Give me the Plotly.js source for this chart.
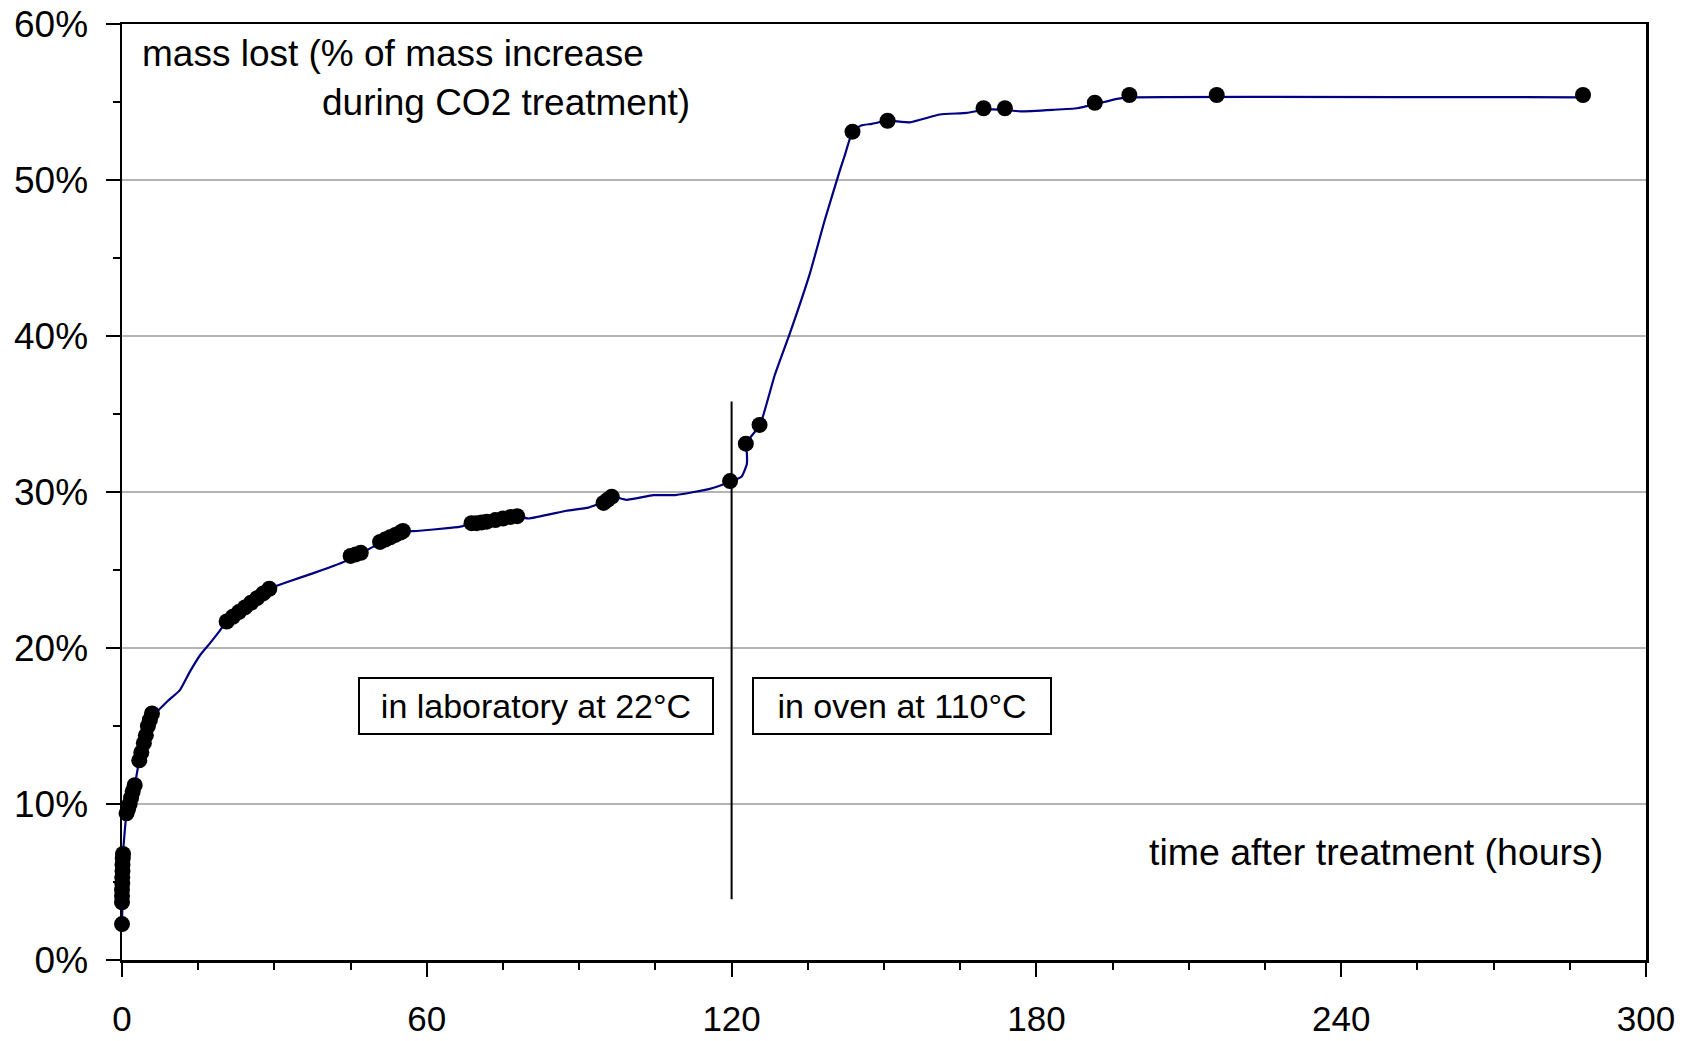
<!DOCTYPE html>
<html>
<head>
<meta charset="utf-8">
<script src="https://cdn.plot.ly/plotly-3.0.1.min.js"></script>
<style>html,body{margin:0;padding:0;background:#fff;}#chart{width:1694px;height:1041px;}</style>
</head>
<body>
<div id="chart"></div>
<script>
// Measured points: time after treatment (hours) and mass lost (fraction)
const pointHours = [0, 0, 0, 0, 0.05, 0.05, 0.1, 0.1, 0.15, 0.2,
  0.9, 1.2, 1.5, 1.8, 2.1, 2.5,
  3.4, 3.8, 4.3, 4.7, 5.1, 5.5, 5.9,
  20.6, 21.8, 23.0, 24.2, 25.4, 26.6, 27.8, 29.0,
  45.0, 46.0, 47.0,
  50.8, 51.8, 52.8, 53.8, 54.8, 55.3,
  68.8, 69.8, 70.8, 71.8, 73.5, 75.0, 76.5, 77.8,
  94.8, 95.6, 96.4,
  119.7, 122.8, 125.5, 143.8, 150.7, 169.6, 173.8, 191.5, 198.3, 215.5, 287.6];
const pointLost = [0.023, 0.037, 0.041, 0.045, 0.049, 0.053, 0.057, 0.061, 0.065, 0.068,
  0.094, 0.097, 0.100, 0.104, 0.108, 0.112,
  0.128, 0.133, 0.139, 0.144, 0.150, 0.154, 0.158,
  0.217, 0.220, 0.223, 0.226, 0.229, 0.232, 0.235, 0.238,
  0.259, 0.260, 0.261,
  0.268, 0.2695, 0.271, 0.2725, 0.274, 0.275,
  0.280, 0.280, 0.2805, 0.281, 0.282, 0.283, 0.284, 0.2845,
  0.293, 0.295, 0.297,
  0.307, 0.331, 0.343, 0.531, 0.538, 0.546, 0.546, 0.5495, 0.5545, 0.5545, 0.5545];

// Blue trend line vertices
const lineHours = [0, 0.1, 0.2, 0.9, 2.5, 3.4, 5.9, 7.1, 9.0, 11.4, 13.4, 15.5, 17.3, 19.0, 20.6,
  29.0, 32.7, 37.7, 44.2, 45.0, 47.0, 49.5, 51.1, 55.3, 58.0, 64.6, 66.9, 68.8, 77.8, 80.0,
  87.5, 91.8, 95.1, 96.7, 99.3, 104.6, 108.9, 115.7, 119.7, 122.0, 123.0, 123.0, 122.8,
  125.6, 128.5, 131.5, 135.4, 138.4, 141.3, 142.3, 143.8, 145.5, 147.6, 150.7, 155.1,
  161.0, 166.3, 169.6, 173.8, 176.8, 183.3, 188.0, 191.5, 195.9, 198.3, 287.5];
const lineLost = [0.023, 0.040, 0.068, 0.094, 0.112, 0.128, 0.158, 0.160, 0.166, 0.173, 0.185, 0.196, 0.203, 0.210, 0.217,
  0.238, 0.2425, 0.248, 0.256, 0.259, 0.261, 0.265, 0.268, 0.2745, 0.275, 0.277, 0.278, 0.280, 0.2845, 0.283,
  0.288, 0.290, 0.294, 0.297, 0.295, 0.298, 0.298, 0.302, 0.3066, 0.310, 0.318, 0.325, 0.331,
  0.343, 0.375, 0.402, 0.440, 0.475, 0.506, 0.516, 0.531, 0.535, 0.536, 0.538, 0.537,
  0.542, 0.543, 0.545, 0.545, 0.544, 0.545, 0.546, 0.5485, 0.552, 0.553, 0.553];

// Divider between laboratory and oven phases
const dividerHours = [120, 120];
const dividerLost = [0.039, 0.358];

const xTickVals = [0, 60, 120, 180, 240, 300];
const xTickText = ['0', '60', '120', '180', '240', '300'];
const yTickVals = [0, 0.1, 0.2, 0.3, 0.4, 0.5, 0.6];
const yTickText = ['0%', '10%', '20%', '30%', '40%', '50%', '60%'];

const FONT = 'Liberation Sans, Arial, sans-serif';

const traces = [
  {x: dividerHours, y: dividerLost, mode: 'lines', line: {color: '#000', width: 2},
   hoverinfo: 'skip', showlegend: false},
  {x: lineHours, y: lineLost, mode: 'lines', line: {color: '#000080', width: 2.2, shape: 'spline', smoothing: 0.4},
   showlegend: false},
  {x: pointHours, y: pointLost, mode: 'markers', marker: {color: '#000', size: 16},
   showlegend: false, cliponaxis: false}
];

const layout = {
  width: 1694, height: 1041,
  margin: {l: 122, r: 48, t: 24, b: 81},
  paper_bgcolor: '#fff', plot_bgcolor: '#fff',
  font: {family: FONT, color: '#000', size: 35},
  showlegend: false,
  xaxis: {
    range: [0, 300], tickvals: xTickVals, ticktext: xTickText,
    ticks: 'outside', ticklen: 14, tickwidth: 2, tickcolor: '#000',
    showline: true, linecolor: '#000', linewidth: 2.5, mirror: true,
    showgrid: false, zeroline: false,
    tickfont: {family: FONT, size: 35, color: '#000'},
    ticklabelstandoff: 12,
    minor: {dtick: 15, ticks: 'outside', ticklen: 7, tickwidth: 2, tickcolor: '#000', showgrid: false}
  },
  yaxis: {
    range: [0, 0.6], tickvals: yTickVals, ticktext: yTickText,
    ticks: 'outside', ticklen: 14, tickwidth: 2, tickcolor: '#000',
    showline: true, linecolor: '#000', linewidth: 2.5, mirror: true,
    showgrid: true, gridcolor: '#b4b4b4', gridwidth: 1.5, zeroline: false,
    tickfont: {family: FONT, size: 37, color: '#000'},
    ticklabelstandoff: 10,
    minor: {dtick: 0.05, ticks: 'outside', ticklen: 7, tickwidth: 2, tickcolor: '#000', showgrid: false}
  },
  annotations: [
    {text: 'mass lost (% of mass increase', xref: 'x', yref: 'y', x: 3.5, y: 0.581,
     xanchor: 'left', yanchor: 'middle', showarrow: false, font: {family: FONT, size: 37}},
    {text: 'during CO2 treatment)', xref: 'x', yref: 'y', x: 39.0, y: 0.550,
     xanchor: 'left', yanchor: 'middle', showarrow: false, font: {family: FONT, size: 37}},
    {text: 'time after treatment (hours)', xref: 'x', yref: 'y', x: 201.8, y: 0.069,
     xanchor: 'left', yanchor: 'middle', showarrow: false, font: {family: FONT, size: 37.5}},
    {text: 'in laboratory at 22°C', xref: 'x', yref: 'y', x: 81.5, y: 0.163,
     xanchor: 'center', yanchor: 'middle', showarrow: false, font: {family: FONT, size: 34},
     bordercolor: '#000', borderwidth: 2, borderpad: 0, width: 352, height: 54, bgcolor: '#fff'},
    {text: 'in oven at 110°C', xref: 'x', yref: 'y', x: 153.5, y: 0.163,
     xanchor: 'center', yanchor: 'middle', showarrow: false, font: {family: FONT, size: 34},
     bordercolor: '#000', borderwidth: 2, borderpad: 0, width: 296, height: 54, bgcolor: '#fff'}
  ]
};

Plotly.newPlot('chart', traces, layout, {displayModeBar: false, staticPlot: true});
</script>
</body>
</html>
